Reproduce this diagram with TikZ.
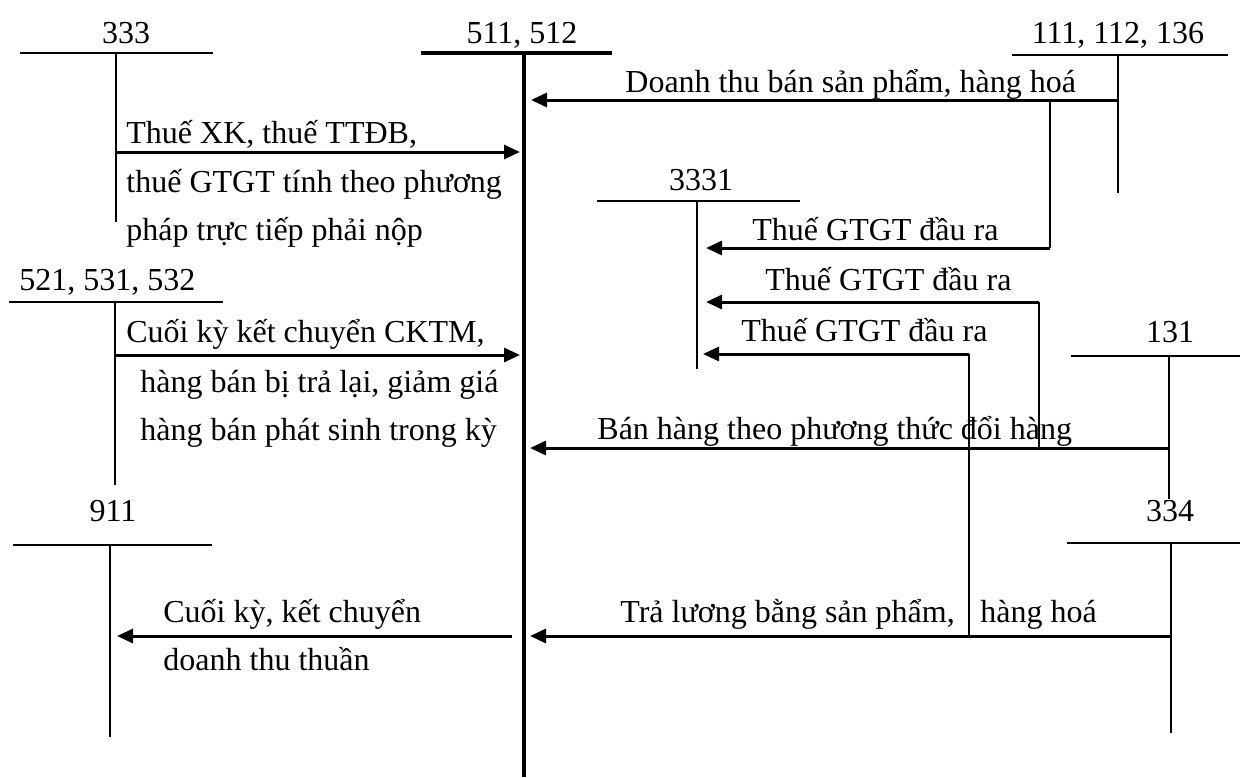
\documentclass[tikz,border=0pt]{standalone}
\usepackage{fontspec}
\setmainfont{Liberation Serif}
\usetikzlibrary{arrows.meta}
\begin{document}
\begin{tikzpicture}[x=0.5pt,y=-0.5pt,
  lbl/.style={inner sep=0pt,font=\fontsize{16}{19}\selectfont},
  tline/.style={line width=0.9pt},
  mainline/.style={line width=2pt},
  flow/.style={line width=1.5pt,-{Triangle[length=8pt,width=7pt]}},
  branch/.style={line width=0.9pt}]
\useasboundingbox (0,0) rectangle (1240,777);

% ---- T-accounts: top bar ends and column ends ----
\coordinate (a333L) at (20,53);    \coordinate (a333R) at (213,53);
\coordinate (a333T) at (116,53);   \coordinate (a333B) at (116,222);
\coordinate (a511L) at (421,53);   \coordinate (a511R) at (612,53);
\coordinate (a511T) at (524,53);   \coordinate (a511B) at (524,777);
\coordinate (a111L) at (1012,55);  \coordinate (a111R) at (1228,55);
\coordinate (a111T) at (1118,55);  \coordinate (a111B) at (1118,193);
\coordinate (a3331L) at (597,201); \coordinate (a3331R) at (800,201);
\coordinate (a3331T) at (697,201); \coordinate (a3331B) at (697,369);
\coordinate (a521L) at (9,302);    \coordinate (a521R) at (223,302);
\coordinate (a521T) at (115,302);  \coordinate (a521B) at (115,485);
\coordinate (a131L) at (1071,356); \coordinate (a131R) at (1240,356);
\coordinate (a131T) at (1169,356); \coordinate (a131B) at (1169,499);
\coordinate (a911L) at (13,545);   \coordinate (a911R) at (212,545);
\coordinate (a911T) at (110,545);  \coordinate (a911B) at (110,737);
\coordinate (a334L) at (1067,543); \coordinate (a334R) at (1240,543);
\coordinate (a334T) at (1171,543); \coordinate (a334B) at (1171,733);

\draw[tline] (a333L) -- (a333R) (a333T) -- (a333B);
\draw[mainline] (a511L) -- (a511R) (a511T) -- (a511B);
\draw[tline] (a111L) -- (a111R) (a111T) -- (a111B);
\draw[tline] (a3331L) -- (a3331R) (a3331T) -- (a3331B);
\draw[tline] (a521L) -- (a521R) (a521T) -- (a521B);
\draw[tline] (a131L) -- (a131R) (a131T) -- (a131B);
\draw[tline] (a911L) -- (a911R) (a911T) -- (a911B);
\draw[tline] (a334L) -- (a334R) (a334T) -- (a334B);

% ---- account titles ----
\node[lbl,anchor=base] (t333) at (126,43) {333};
\node[lbl,anchor=base] (t511) at (522,43) {511, 512};
\node[lbl,anchor=base] (t111) at (1118,43) {111, 112, 136};
\node[lbl,anchor=base] (t3331) at (701,190) {3331};
\node[lbl,anchor=base west] (t521) at (19,290) {521, 531, 532};
\node[lbl,anchor=base] (t131) at (1170,342) {131};
\node[lbl,anchor=base] (t911) at (113,521) {911};
\node[lbl,anchor=base] (t334) at (1170,521) {334};

% ---- entry points on the columns ----
\coordinate (s111) at (1118,100);  \coordinate (e511a) at (531,100);
\coordinate (s333) at (116,152);   \coordinate (e511b) at (520,152);
\coordinate (k1top) at (1050,100); \coordinate (k1) at (1050,248);
\coordinate (e3331a) at (706,248);
\coordinate (k2) at (1039,302);    \coordinate (k2bot) at (1039,448);
\coordinate (e3331b) at (706,302);
\coordinate (k3) at (969,354);     \coordinate (k3bot) at (969,636);
\coordinate (e3331c) at (703,354);
\coordinate (s521) at (115,355);   \coordinate (e511c) at (520,355);
\coordinate (s131) at (1169,448);  \coordinate (e511d) at (530,448);
\coordinate (s511) at (512,636);   \coordinate (e911) at (117,636);
\coordinate (s334) at (1171,636);  \coordinate (e511e) at (530,636);

% ---- flows ----
\draw[flow] (s111) -- (e511a);
\draw[flow] (s333) -- (e511b);
\draw[branch] (k1top) -- (k1);
\draw[flow] (k1) -- (e3331a);
\draw[branch] (k2bot) -- (k2);
\draw[flow] (k2) -- (e3331b);
\draw[branch] (k3bot) -- (k3);
\draw[flow] (k3) -- (e3331c);
\draw[flow] (s521) -- (e511c);
\draw[flow] (s131) -- (e511d);
\draw[flow] (s511) -- (e911);
\draw[flow] (s334) -- (e511e);

% ---- flow descriptions ----
\node[lbl,anchor=base west] (d1) at (625,92) {Doanh thu bán sản phẩm, hàng hoá};
\node[lbl,anchor=base west] (d2a) at (126,143) {Thuế XK, thuế TTĐB,};
\node[lbl,anchor=base west] (d2b) at (126,192) {thuế GTGT tính theo phương};
\node[lbl,anchor=base west] (d2c) at (126,240) {pháp trực tiếp phải nộp};
\node[lbl,anchor=base west] (d3) at (752,240) {Thuế GTGT đầu ra};
\node[lbl,anchor=base west] (d4) at (765,290) {Thuế GTGT đầu ra};
\node[lbl,anchor=base west] (d5) at (741,341) {Thuế GTGT đầu ra};
\node[lbl,anchor=base west] (d6a) at (126,342) {Cuối kỳ kết chuyển CKTM,};
\node[lbl,anchor=base west] (d6b) at (140,392) {hàng bán bị trả lại, giảm giá};
\node[lbl,anchor=base west] (d6c) at (140,440) {hàng bán phát sinh trong kỳ};
\node[lbl,anchor=base west] (d7) at (597,439) {Bán hàng theo phương thức đổi hàng};
\node[lbl,anchor=base west] (d8a) at (163,622) {Cuối kỳ, kết chuyển};
\node[lbl,anchor=base west] (d8b) at (163,670) {doanh thu thuần};
\node[lbl,anchor=base west] (d9a) at (620,622) {Trả lương bằng sản phẩm,};
\node[lbl,anchor=base west] (d9b) at (980,622) {hàng hoá};
\end{tikzpicture}
\end{document}
